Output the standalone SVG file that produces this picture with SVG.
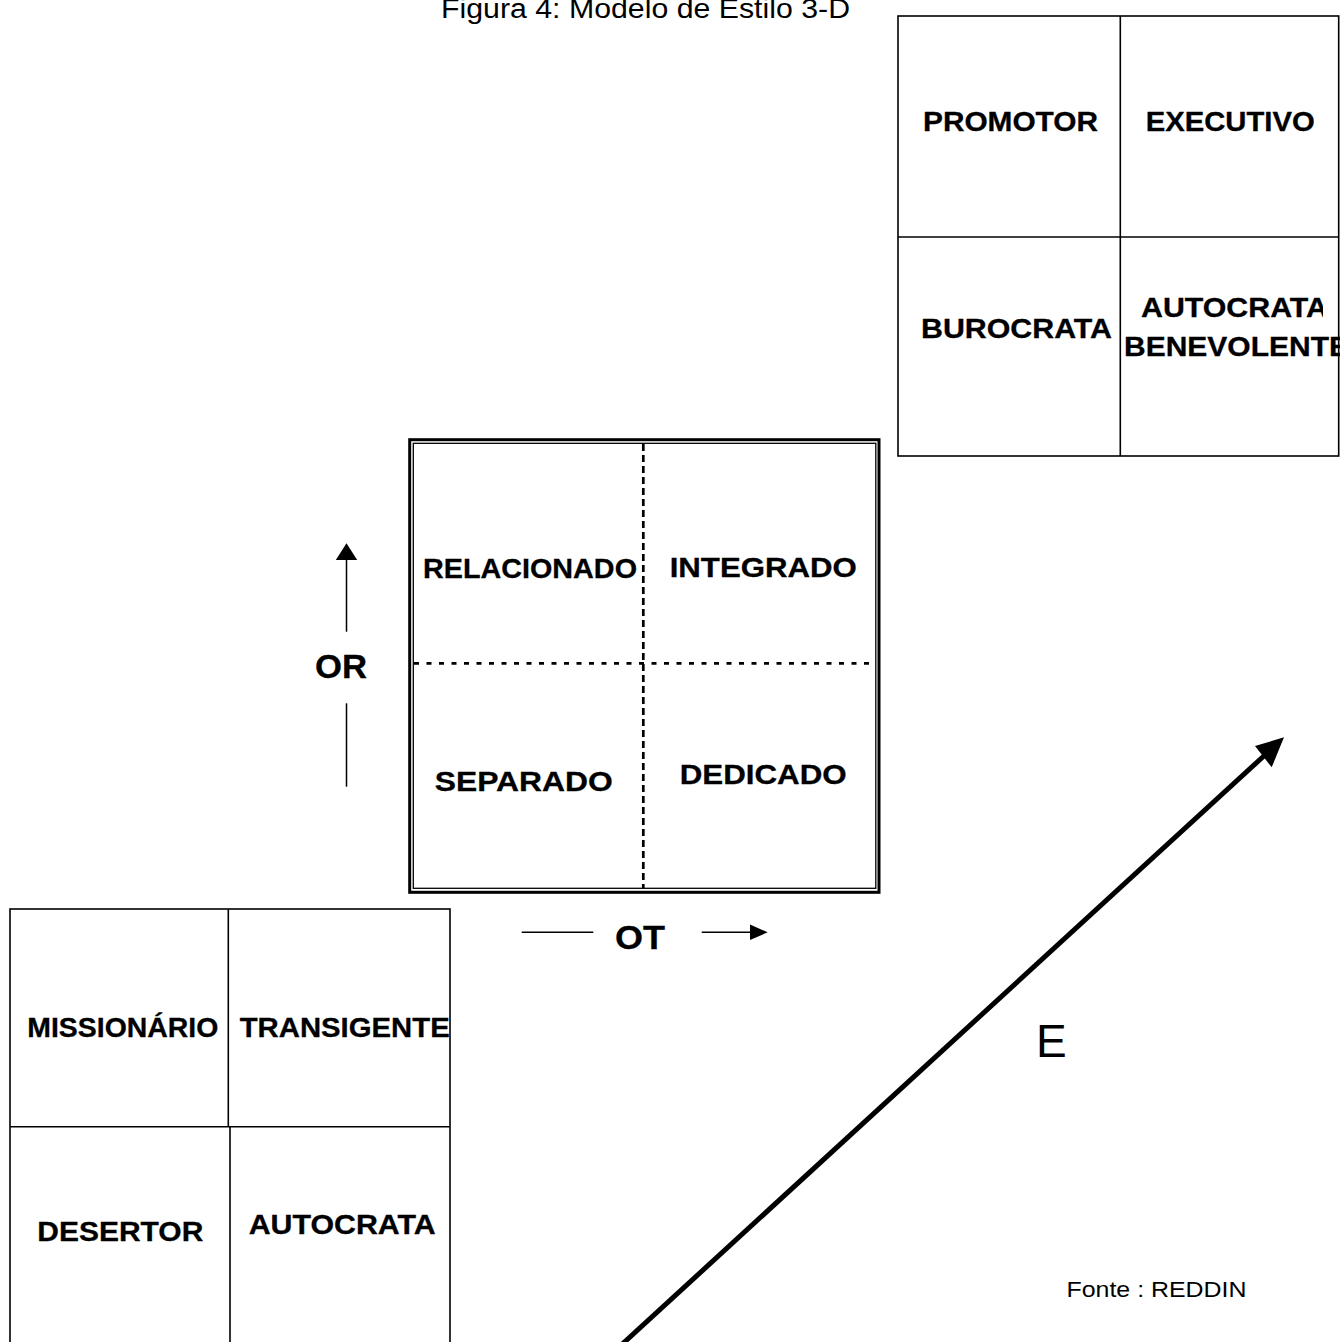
<svg xmlns="http://www.w3.org/2000/svg" width="1343" height="1342" viewBox="0 0 1343 1342">
<style>
.bg{fill:#ffffff}
.box{fill:none;stroke:#000;stroke-width:1.6}
.lbl{font-family:"Liberation Sans",Arial,sans-serif;font-weight:bold;font-size:27.5px;fill:#000;stroke:#000;stroke-width:0.3}
.axl{font-family:"Liberation Sans",Arial,sans-serif;font-weight:bold;font-size:33px;fill:#000;stroke:#000;stroke-width:0.3}
.reg{font-family:"Liberation Sans",Arial,sans-serif;fill:#000}
.ax{stroke:#000;stroke-width:1.5;fill:none}
.dash{stroke:#000;stroke-width:2.7;fill:none}
</style>
<defs>
<clipPath id="clipAut"><rect x="1121" y="280" width="202" height="50"/></clipPath>
<clipPath id="clipBen"><rect x="1121" y="325" width="219" height="50"/></clipPath>
</defs>
<rect class="bg" x="0" y="0" width="1343" height="1342"/>

<text id="title" class="reg" x="441" y="18.3" font-size="27" textLength="409" lengthAdjust="spacingAndGlyphs">Figura 4: Modelo de Estilo 3-D</text>

<g id="box-top-right">
<rect class="box" x="898" y="16" width="440.7" height="440"/>
<line class="box" x1="1120.3" y1="16" x2="1120.3" y2="456"/>
<line class="box" x1="898" y1="237" x2="1338.7" y2="237"/>
<text class="lbl" x="923" y="131" textLength="175" lengthAdjust="spacingAndGlyphs">PROMOTOR</text>
<text class="lbl" x="1145.7" y="131" textLength="169" lengthAdjust="spacingAndGlyphs">EXECUTIVO</text>
<text class="lbl" x="921" y="338" textLength="191" lengthAdjust="spacingAndGlyphs">BUROCRATA</text>
<text class="lbl" x="1141" y="317" textLength="187" lengthAdjust="spacingAndGlyphs" clip-path="url(#clipAut)">AUTOCRATA</text>
<text class="lbl" x="1124" y="356" textLength="225" lengthAdjust="spacingAndGlyphs" clip-path="url(#clipBen)">BENEVOLENTE</text>
</g>

<g id="box-center">
<rect fill="none" stroke="#000" stroke-width="3" x="409.7" y="439.7" width="469.3" height="452.6"/>
<rect fill="none" stroke="#000" stroke-width="1.3" x="413.3" y="443.3" width="462.5" height="445"/>
<line class="dash" x1="643.3" y1="444" x2="643.3" y2="888" stroke-dasharray="7 4"/>
<line class="dash" x1="414" y1="663.3" x2="870" y2="663.3" stroke-dasharray="5 7.5"/>
<text class="lbl" x="423" y="578" textLength="214" lengthAdjust="spacingAndGlyphs">RELACIONADO</text>
<text class="lbl" x="669.7" y="577" textLength="187" lengthAdjust="spacingAndGlyphs">INTEGRADO</text>
<text class="lbl" x="434.7" y="791" textLength="178" lengthAdjust="spacingAndGlyphs">SEPARADO</text>
<text class="lbl" x="679.7" y="784" textLength="167" lengthAdjust="spacingAndGlyphs">DEDICADO</text>
</g>

<g id="box-bottom-left">
<rect class="box" x="10" y="909" width="440" height="460"/>
<line class="box" x1="10" y1="1126.7" x2="450" y2="1126.7"/>
<line class="box" x1="228.3" y1="909" x2="228.3" y2="1126.7"/>
<line class="box" x1="230" y1="1126.7" x2="230" y2="1369"/>
<text class="lbl" x="27.3" y="1036.7" textLength="191" lengthAdjust="spacingAndGlyphs">MISSIONÁRIO</text>
<text class="lbl" x="239.7" y="1036.7" textLength="210" lengthAdjust="spacingAndGlyphs">TRANSIGENTE</text>
<text class="lbl" x="37.3" y="1240.7" textLength="166" lengthAdjust="spacingAndGlyphs">DESERTOR</text>
<text class="lbl" x="248.7" y="1234" textLength="187" lengthAdjust="spacingAndGlyphs">AUTOCRATA</text>
</g>

<g id="connectors">
<g id="axis-or">
<line class="ax" x1="346.5" y1="559" x2="346.5" y2="631.7"/>
<polygon points="346.5,543.3 335.8,560 357.2,560" fill="#000"/>
<line class="ax" x1="346.5" y1="703.3" x2="346.5" y2="786.7"/>
</g>
<g id="axis-ot">
<line class="ax" x1="521.7" y1="932.3" x2="593.3" y2="932.3"/>
<line class="ax" x1="701.7" y1="932.3" x2="751" y2="932.3"/>
<polygon points="767.7,932.3 750,924.5 750,940.1" fill="#000"/>
</g>
<g id="axis-e">
<line stroke="#000" stroke-width="5" x1="618" y1="1348" x2="1266" y2="754"/>
<polygon points="1284,737.3 1255,746 1271.7,767.3" fill="#000"/>
</g>
</g>

<text id="label-or" class="axl" x="315" y="678.3" textLength="52" lengthAdjust="spacingAndGlyphs">OR</text>
<text id="label-ot" class="axl" x="615" y="949.3" textLength="50" lengthAdjust="spacingAndGlyphs">OT</text>
<text id="label-e" class="reg" x="1036" y="1056.7" font-size="46">E</text>
<text id="source" class="reg" x="1066.5" y="1297.3" font-size="22.5" textLength="180" lengthAdjust="spacingAndGlyphs">Fonte : REDDIN</text>
</svg>
